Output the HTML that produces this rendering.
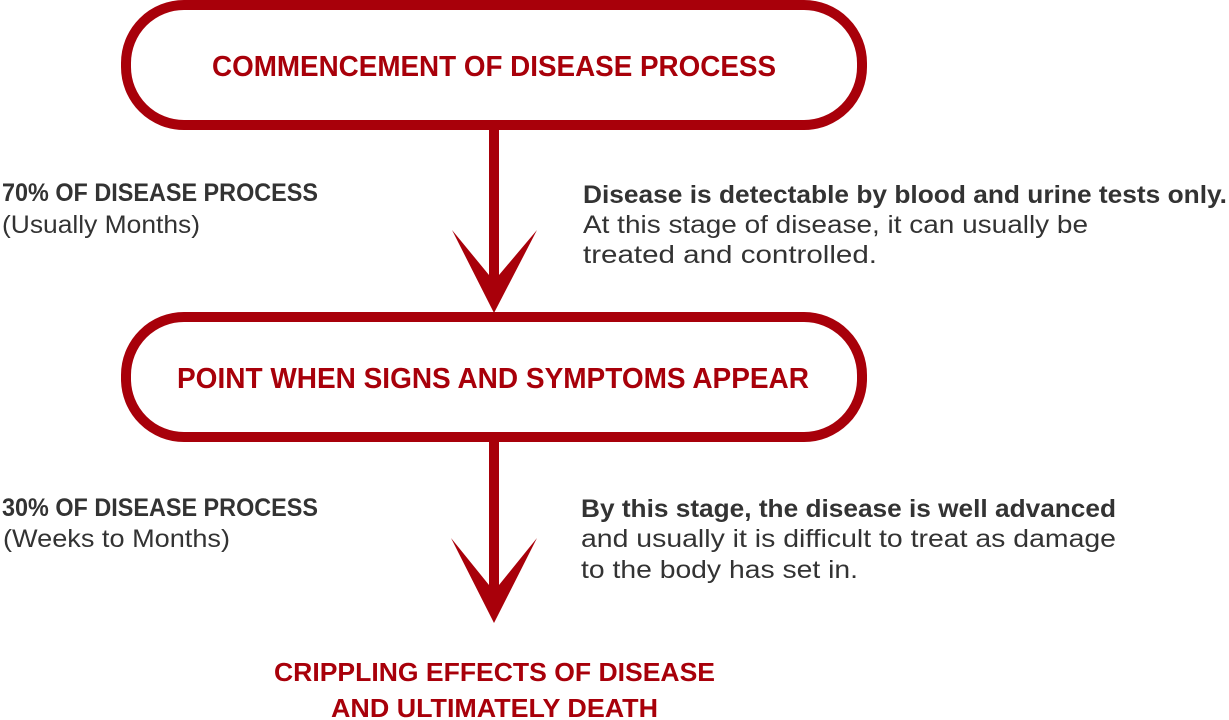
<!DOCTYPE html>
<html>
<head>
<meta charset="utf-8">
<style>
  html,body{margin:0;padding:0;background:#fff;}
  svg{display:block;}
  text{font-family:"Liberation Sans",Arial,sans-serif;}
  .red{fill:#a8000a;font-weight:bold;}
  .b{fill:#333333;font-weight:bold;}
  .r{fill:#333333;}
</style>
</head>
<body>
<svg width="1229" height="720" viewBox="0 0 1229 720" xmlns="http://www.w3.org/2000/svg">
  <!-- Box 1 -->
  <rect x="126" y="5" width="736" height="120" rx="58" ry="58" fill="#fff" stroke="#a8000a" stroke-width="10"/>
  <!-- Box 2 -->
  <rect x="126" y="317" width="736" height="120" rx="58" ry="58" fill="#fff" stroke="#a8000a" stroke-width="10"/>

  <!-- Arrow 1 -->
  <rect x="489" y="129" width="10" height="150" fill="#a8000a"/>
  <polygon points="452,230 489,275 499,275 537,230 494,313" fill="#a8000a"/>

  <!-- Arrow 2 -->
  <rect x="489" y="441" width="10" height="148" fill="#a8000a"/>
  <polygon points="451,538 489,585 499,585 537,538 494,623" fill="#a8000a"/>

  <!-- Box texts -->
  <text class="red" x="212" y="76" font-size="29" textLength="564" lengthAdjust="spacingAndGlyphs">COMMENCEMENT OF DISEASE PROCESS</text>
  <text class="red" x="177" y="388" font-size="29" textLength="632" lengthAdjust="spacingAndGlyphs">POINT WHEN SIGNS AND SYMPTOMS APPEAR</text>

  <!-- Bottom text -->
  <text class="red" x="274" y="681" font-size="26" textLength="441" lengthAdjust="spacingAndGlyphs">CRIPPLING EFFECTS OF DISEASE</text>
  <text class="red" x="331" y="717" font-size="26" textLength="327" lengthAdjust="spacingAndGlyphs">AND ULTIMATELY DEATH</text>

  <!-- Left labels -->
  <text class="b" x="2" y="201" font-size="25" textLength="316" lengthAdjust="spacingAndGlyphs">70% OF DISEASE PROCESS</text>
  <text class="r" x="2" y="233" font-size="25" textLength="198" lengthAdjust="spacingAndGlyphs">(Usually Months)</text>

  <text class="b" x="2" y="516" font-size="25" textLength="316" lengthAdjust="spacingAndGlyphs">30% OF DISEASE PROCESS</text>
  <text class="r" x="3" y="547" font-size="25" textLength="227" lengthAdjust="spacingAndGlyphs">(Weeks to Months)</text>

  <!-- Right texts -->
  <text class="b" x="583" y="203" font-size="25" textLength="644" lengthAdjust="spacingAndGlyphs">Disease is detectable by blood and urine tests only.</text>
  <text class="r" x="583" y="233" font-size="25" textLength="505" lengthAdjust="spacingAndGlyphs">At this stage of disease, it can usually be</text>
  <text class="r" x="583" y="263" font-size="25" textLength="294" lengthAdjust="spacingAndGlyphs">treated and controlled.</text>

  <text class="b" x="581" y="517" font-size="25" textLength="535" lengthAdjust="spacingAndGlyphs">By this stage, the disease is well advanced</text>
  <text class="r" x="581" y="547" font-size="25" textLength="535" lengthAdjust="spacingAndGlyphs">and usually it is difficult to treat as damage</text>
  <text class="r" x="581" y="578" font-size="25" textLength="277" lengthAdjust="spacingAndGlyphs">to the body has set in.</text>
</svg>
</body>
</html>
